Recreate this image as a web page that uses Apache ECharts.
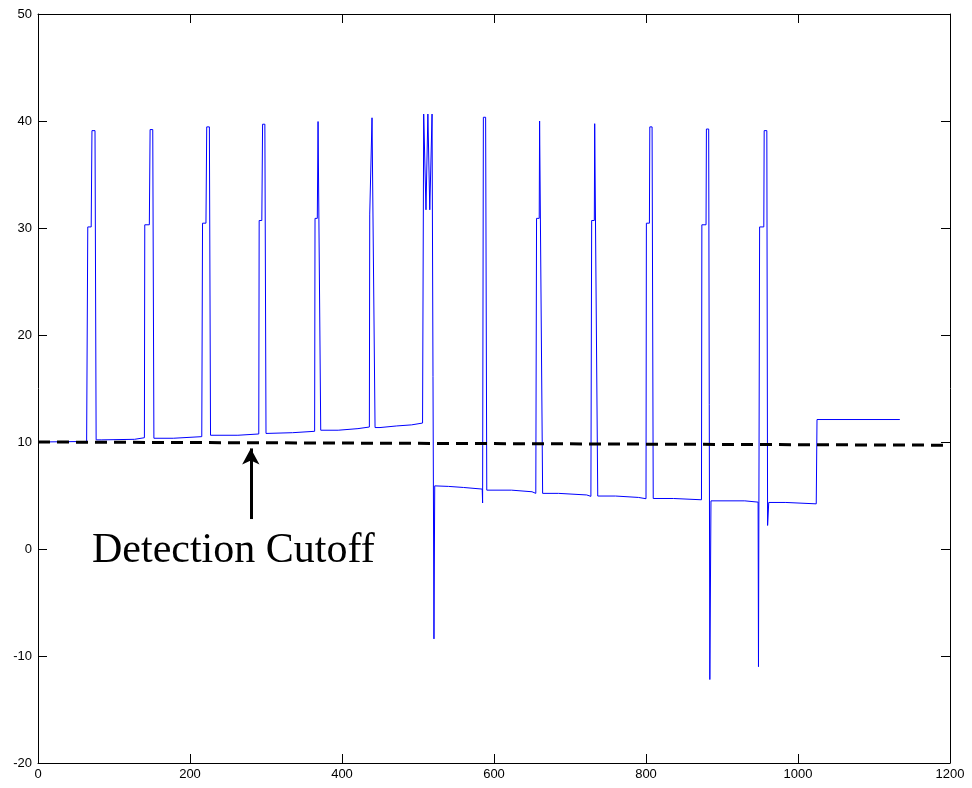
<!DOCTYPE html>
<html>
<head>
<meta charset="utf-8">
<script src="https://cdn.jsdelivr.net/npm/echarts@6/dist/echarts.min.js"></script>
<style>
html,body{margin:0;padding:0;background:#fff;}
#chart{width:972px;height:788px;}
</style>
</head>
<body>
<div id="chart"></div>
<script>
// x positions of the measured trace
var traceX = [
  0, 64, 65.5, 70, 71, 75, 76.5, 84, 84.5, 127, 127.5, 140,
  140.5, 146.5, 147.5, 151, 152.5, 178, 178.5, 215.5,
  216.5, 221, 222, 225.5, 227, 263, 263.5, 290.5,
  291, 294.5, 295.5, 298.5, 300, 335, 335.5, 364,
  364.5, 367.5, 368.5, 370.5, 372, 395, 395.5, 421, 421.5, 436,
  436.5, 439, 439.5, 442, 443.5, 450, 450.5, 472, 472.5, 491.5, 492, 506,
  507.5, 509.5, 510.5, 512, 513, 514.5, 515.5, 517.5, 518.5, 520, 521, 522,
  540, 540.5, 560, 560.5, 584.5, 585, 586, 589, 590.5,
  623, 623.5, 650, 650.5, 655, 656, 659.5, 660, 662.5, 664,
  685, 685.5, 722, 722.5, 727.5,
  728.5, 732, 732.5, 735, 736.5, 760, 760.5, 790, 790.5, 800,
  800.5, 804.5, 805, 808, 809.5, 836, 836.5, 873,
  873.5, 879, 879.5, 882.5, 884, 885.5, 930, 930.5, 947.5, 948,
  949.5, 955, 955.5, 959, 960, 961.5, 984, 984.5, 1024, 1025, 1134
];
// y values of the measured trace
var traceY = [
  10.0, 10.05, 30.1, 30.1, 39.1, 39.1, 10.2, 10.2, 10.25, 10.25, 10.4, 10.4,
  30.3, 30.3, 39.2, 39.2, 10.35, 10.35, 10.5, 10.5,
  30.45, 30.45, 39.45, 39.45, 10.63, 10.63, 10.75, 10.75,
  30.7, 30.7, 39.7, 39.7, 10.8, 10.87, 11.0, 11.0,
  30.9, 30.9, 39.95, 39.95, 11.1, 11.1, 11.25, 11.25, 11.4, 11.4,
  31.3, 31.3, 40.3, 40.3, 11.35, 11.35, 11.5, 11.5, 11.6, 11.6, 11.77, 11.77,
  40.65, 40.65, 31.7, 31.7, 40.65, 40.65, 31.7, 31.7, 40.65, 40.65, -8.4, 5.9,
  5.85, 5.75, 5.75, 5.6, 5.6, 4.3, 40.35, 40.35, 5.5,
  5.5, 5.35, 5.35, 5.2, 5.2, 30.9, 30.9, 40.0, 40.0, 5.2,
  5.2, 5.05, 5.05, 4.92, 4.92,
  30.7, 30.7, 39.75, 39.75, 4.95, 4.95, 4.82, 4.82, 4.7, 4.7,
  30.45, 30.45, 39.45, 39.45, 4.72, 4.72, 4.6, 4.6,
  30.3, 30.3, 39.25, 39.25, -12.2, 4.5, 4.5, 4.38, 4.38, -11.0,
  30.1, 30.1, 39.1, 39.1, 2.2, 4.35, 4.35, 4.22, 4.22, 12.1, 12.1
];
// detection cutoff line
var cutoffX = [0, 1200];
var cutoffY = [10.0, 9.7];
// annotation
var arrowX = 280;
var arrowFromY = 2.8;
var arrowToY = 9.4;
var annotationText = 'Detection Cutoff';
// axes
var xMin = 0, xMax = 1200, xStep = 200;
var yMin = -20, yMax = 50, yStep = 10;

function zip(a, b) { var r = []; for (var i = 0; i < a.length; i++) r.push([a[i], b[i]]); return r; }

var chart = echarts.init(document.getElementById('chart'), null, {renderer: 'canvas'});
var axisBase = {
  type: 'value',
  axisLine: {show: true, onZero: false, lineStyle: {color: '#000', width: 1}},
  axisTick: {show: true, inside: true, length: 9, lineStyle: {color: '#000', width: 1}},
  splitLine: {show: false}
};
var labelStyle = {color: '#000', fontSize: 13, fontFamily: 'Liberation Sans, Arial, sans-serif',
  formatter: function (v) { return String(v); }};
var option = {
  animation: false,
  backgroundColor: '#fff',
  grid: {left: 38, right: 22, top: 14, bottom: 25, containLabel: false},
  xAxis: [
    Object.assign({}, axisBase, {min: xMin, max: xMax, interval: xStep, position: 'bottom',
      axisLabel: Object.assign({margin: 5}, labelStyle)}),
    Object.assign({}, axisBase, {min: xMin, max: xMax, interval: xStep, position: 'top',
      axisLabel: {show: false}})
  ],
  yAxis: [
    Object.assign({}, axisBase, {min: yMin, max: yMax, interval: yStep, position: 'left',
      axisLabel: Object.assign({margin: 6}, labelStyle)}),
    Object.assign({}, axisBase, {min: yMin, max: yMax, interval: yStep, position: 'right',
      axisLabel: {show: false}})
  ],
  series: [
    {
      type: 'line', xAxisIndex: 0, yAxisIndex: 0,
      data: zip(traceX, traceY),
      showSymbol: false, symbol: 'none',
      lineStyle: {color: '#0000ff', width: 1},
      z: 2
    },
    {
      type: 'line', xAxisIndex: 0, yAxisIndex: 0,
      data: zip(cutoffX, cutoffY),
      showSymbol: false, symbol: 'none',
      lineStyle: {color: '#000', width: 3, type: [12, 7]},
      z: 3
    },
    {
      type: 'line', xAxisIndex: 0, yAxisIndex: 0,
      data: [],
      markLine: {
        silent: true,
        symbol: ['none', 'arrow'],
        symbolSize: [13, 16],
        label: {show: false},
        lineStyle: {color: '#000', width: 3, type: 'solid'},
        data: [[{coord: [arrowX, arrowFromY]}, {coord: [arrowX, arrowToY]}]]
      }
    }
  ],
  graphic: [
    {
      type: 'text', left: 92, top: 530,
      style: {text: annotationText, fill: '#000', font: '42px "Liberation Serif", "Times New Roman", serif'}
    }
  ]
};
chart.setOption(option);
</script>
</body>
</html>
